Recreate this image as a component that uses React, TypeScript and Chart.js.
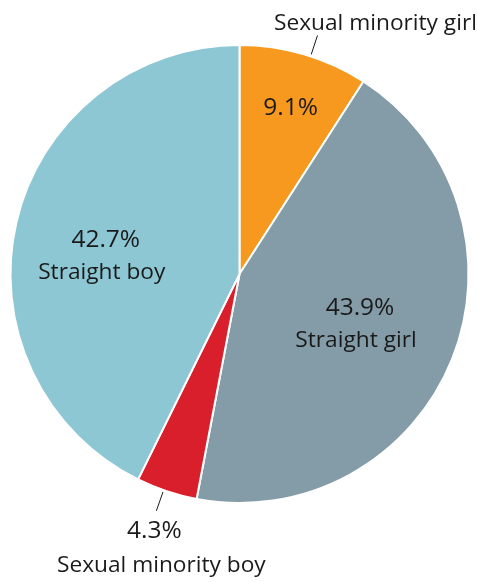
import React, { useEffect, useRef } from "react";
import { Chart, registerables } from "chart.js";

Chart.register(...registerables);

const categories = ["Sexual minority girl", "Straight girl", "Sexual minority boy", "Straight boy"];
const values = [9.1, 43.9, 4.3, 42.7];
const colors = ["#F7991F", "#839CA8", "#D91F2B", "#8DC7D4"];
// label placement: inside or outside
const placement = ["outside", "inside", "outside", "inside"];
const insideRadius = [0.76, 0.56, 0, 0.6];
const angleShift = [0.012, 0.022, 0, -0.1];
const lineAngleShift = [0.018, 0, 0.014, 0];

const FONT = "'Open Sans', 'Noto Sans', sans-serif";
const NAME_FONT = `22.7px ${FONT}`;
const PCT_FONT = `24.5px ${FONT}`;

const labelPlugin = {
  id: "pieLabels",
  afterDatasetsDraw(chart: any) {
    const ctx = chart.ctx;
    const meta = chart.getDatasetMeta(0);
    ctx.save();
    ctx.fillStyle = "#1a1a1a";
    ctx.textAlign = "center";
    ctx.textBaseline = "middle";
    meta.data.forEach((arc: any, i: number) => {
      const { x, y, startAngle, endAngle, outerRadius } = arc.getProps(
        ["x", "y", "startAngle", "endAngle", "outerRadius"],
        true
      );
      const mid = (startAngle + endAngle) / 2 + angleShift[i];
      const pct = values[i].toFixed(1) + "%";
      if (placement[i] === "inside") {
        const r = outerRadius * insideRadius[i];
        const cx = x + Math.cos(mid) * r;
        const cy = y + Math.sin(mid) * r;
        ctx.font = PCT_FONT;
        ctx.fillText(pct, cx + 2.5, cy - 16);
        ctx.font = NAME_FONT;
        ctx.fillText(categories[i], cx - 1.5, cy + 16);
      } else {
        const la = mid + lineAngleShift[i];
        const r1 = outerRadius + 2;
        const r2 = outerRadius + 22;
        const x1 = x + Math.cos(la) * r1;
        const y1 = y + Math.sin(la) * r1;
        const x2 = x + Math.cos(la) * r2;
        const y2 = y + Math.sin(la) * r2;
        ctx.strokeStyle = "#1a1a1a";
        ctx.lineWidth = 1;
        ctx.beginPath();
        ctx.moveTo(x1, y1);
        ctx.lineTo(x2, y2);
        ctx.stroke();
        if (Math.sin(la) < 0) {
          // above the pie: category name only, pct inside
          ctx.font = NAME_FONT;
          ctx.fillText(categories[i], x2 + 58, y2 - 12);
          const ri = outerRadius * insideRadius[i];
          ctx.font = PCT_FONT;
          ctx.fillText(pct, x + Math.cos(mid) * ri, y + Math.sin(mid) * ri);
        } else {
          ctx.font = PCT_FONT;
          ctx.fillText(pct, x2 - 2, y2 + 20);
          ctx.font = NAME_FONT;
          ctx.fillText(categories[i], x2 + 5, y2 + 55);
        }
      }
    });
    ctx.restore();
  },
};

export default function App() {
  const ref = useRef<HTMLCanvasElement>(null);
  useEffect(() => {
    if (!ref.current) return;
    const chart = new Chart(ref.current, {
      type: "pie",
      data: {
        labels: categories,
        datasets: [
          {
            data: values,
            backgroundColor: colors,
            borderColor: "#ffffff",
            borderWidth: 2,
          },
        ],
      },
      options: {
        animation: false,
        responsive: false,
        maintainAspectRatio: false,
        layout: { padding: { left: 9, right: 7, top: 44, bottom: 78 } },
        plugins: {
          legend: { display: false },
          tooltip: { enabled: false },
        },
      },
      plugins: [labelPlugin],
    });
    return () => chart.destroy();
  }, []);
  return (
    <div style={{ position: "fixed", left: 0, top: 0, width: 477, height: 582, background: "#fff" }}>
      <canvas ref={ref} width={477} height={582} style={{ width: 477, height: 582 }} />
    </div>
  );
}
